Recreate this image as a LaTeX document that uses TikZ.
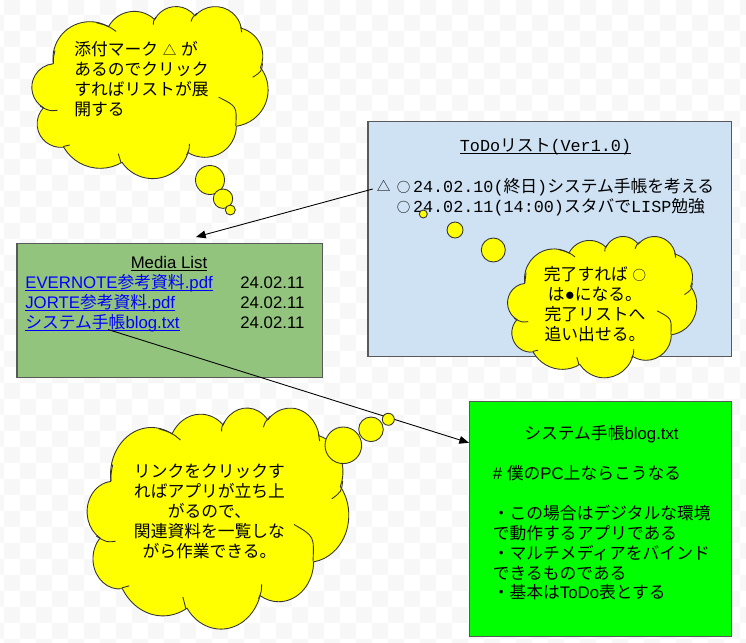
\documentclass[tikz,border=0pt]{standalone}
\usepackage{fontspec}
\setmainfont{Liberation Sans}
\setmonofont{Liberation Mono}
\newfontfamily\cjk{Noto Sans CJK JP}
\usetikzlibrary{arrows.meta, positioning}
\definecolor{tilegray}{HTML}{F7F7F7}
\definecolor{todoblue}{HTML}{CFE2F3}
\definecolor{listgreen}{HTML}{93C47D}
\definecolor{bloggreen}{HTML}{00FF00}
\definecolor{cloudyellow}{HTML}{FFFF00}
\definecolor{linkblue}{HTML}{0000FF}
\newcommand{\jp}[1]{{\cjk #1}}
\newcommand{\thinmark}[1]{{\cjk\fontsize{7.7}{11.34}\selectfont #1}}
\newcommand{\linkline}[1]{\setbox0\hbox{#1}\rlap{\rule[-1.5pt]{\wd0}{0.5pt}}\box0}
\newcommand{\lobe}[4]{arc[x radius=#1,y radius=#2,
  start angle={atan2(#1*sin(#3),#2*cos(#3))},
  delta angle={mod(atan2(#1*sin(#3+#4),#2*cos(#3+#4))-atan2(#1*sin(#3),#2*cos(#3))+720,360)}]}
\newcommand{\cloudnote}[4]{%
  \begin{scope}[shift={(#1,#2)},xscale=#3/432,yscale=#4/432]
    \filldraw[cloudline,fill=cloudyellow] (39,143.7)
      \lobe{67.53}{91.90}{-190.487}{123.781}
      \lobe{53.33}{72.67}{-144.102}{89.945}
      \lobe{43.65}{59.45}{-145.808}{99.723}
      \lobe{48.57}{65.95}{-130.986}{117.242}
      \lobe{53.33}{72.73}{-78.709}{109.027}
      \lobe{67.75}{92.20}{-46.267}{130.269}
      \lobe{57.85}{78.67}{0.625}{114.033}
      \lobe{67.52}{92.15}{22.452}{115.173}
      \lobe{77.20}{105.43}{66.243}{75.711}
      \lobe{43.60}{59.18}{-274.942}{146.736}
      \lobe{43.45}{59.45}{-246.829}{152.519} -- cycle;
    \draw[cloudline] (46.9,261.8) .. controls (32,264) .. (15,252);
    \draw[cloudline] (69.3,349) .. controls (63,352) .. (57,353);
    \draw[cloudline] (158,371) .. controls (159,382) .. (163,394);
    \draw[cloudline] (288,346) .. controls (288,360) .. (283,374);
    \draw[cloudline] (341.6,229) .. controls (375,252) .. (373,301);
    \draw[cloudline] (404,179) .. controls (420,165) .. (422,144);
    \draw[cloudline] (384,66) .. controls (384,60) .. (382,52);
    \draw[cloudline] (291,39) .. controls (294,28) .. (302,18);
    \draw[cloudline] (222,47) .. controls (222,38) .. (227,28);
    \draw[cloudline] (154,64) .. controls (140,50) .. (118,42);
    \draw[cloudline] (39,144) .. controls (39,130) .. (42,112);
  \end{scope}}
\tikzset{
  cloudline/.style={draw=black!80,line width=0.5pt},
  panel/.style={draw=black!65,line width=0.75pt,anchor=north west,inner sep=0pt},
  puff/.style={circle,draw=black!80,fill=cloudyellow,line width=0.5pt,inner sep=0pt},
  note/.style={font=\fontsize{9.55}{11.34}\selectfont,align=left,inner sep=0pt,anchor=north west},
  midnote/.style={note,align=center,anchor=north},
  flow/.style={draw=black,line width=0.5pt,-{Triangle[length=5.5pt,width=4.4pt]}},
}
\begin{document}
\begin{tikzpicture}[x=0.02cm,y=-0.02cm]
  \useasboundingbox (0,0) rectangle (746,642);
  % checker behind everything
  \foreach \tilex in {4,36,...,740}
    \foreach \tiley in {-1,31,...,639} {
      \fill[tilegray] (\tilex,\tiley) rectangle ++(16,16);
      \fill[tilegray] (\tilex+16,\tiley+16) rectangle ++(16,16);
      \fill[tilegray] (\tilex-32+16,\tiley+16) rectangle ++(16,16);
    }
  \fill[tilegray] (0,15) rectangle (4,31);

  % panels
  \node[panel,fill=todoblue,minimum width=363.5*0.02cm,minimum height=235*0.02cm] (todobox) at (367.3,120.7) {};
  \node[panel,fill=listgreen,minimum width=305.4*0.02cm,minimum height=134*0.02cm] (listbox) at (16.3,243) {};
  \node[panel,fill=bloggreen,minimum width=261.7*0.02cm,minimum height=234.7*0.02cm] (blogbox) at (469,401) {};

  % todo panel
  \node[midnote,font=\fontsize{9.55}{11.34}\selectfont\ttfamily] (todotitle) at (545.5,138) {\linkline{To\-Do\jp{リスト}(Ver1.0)}};
  \node[note] (taskmark) at (376.5,180) {\thinmark{△}};
  \node[note,font=\fontsize{9.55}{11.34}\selectfont\ttfamily] (tasklist) at (396.5,178) {%
    \thinmark{○}\kern1.5pt 24.02.10(\jp{終日})\jp{システム手帳を考える}\\
    \thinmark{○}\kern1.5pt 24.02.11(14:00)\jp{スタバで}LISP\jp{勉強}};

  % media list panel
  \node[midnote] (listtitle) at (169,256) {\linkline{Media List}};
  \node[note,text=linkblue] (link1) at (25,274) {\linkline{EVERNOTE\jp{参考資料}.pdf}};
  \node[note,text=linkblue] (link2) at (25,294) {\linkline{JORTE\jp{参考資料}.pdf}};
  \node[note,text=linkblue] (link3) at (25,314) {\linkline{\jp{システム手帳}blog.txt}};
  \node[note] (date1) at (240,276) {24.02.11};
  \node[note] (date2) at (240,296) {24.02.11};
  \node[note] (date3) at (240,316) {24.02.11};

  % blog panel
  \node[midnote] (blogtitle) at (601.5,425) {\jp{システム手帳}blog.txt};
  \node[note] (blogbody) at (492.5,465) {%
    \# \jp{僕の}PC\jp{上ならこうなる}\\[11.34pt]
    \jp{・この場合はデジタルな環境}\\
    \jp{で動作するアプリである}\\
    \jp{・マルチメディアをバインド}\\
    \jp{できるものである}\\
    \jp{・基本は}ToDo\jp{表とする}};

  % arrows
  \coordinate (taskfrom) at (372.7,189);
  \coordinate (listin) at (196,237);
  \coordinate (blogfrom) at (108,329.5);
  \coordinate (blogin) at (469,442.8);
  \draw[flow] (taskfrom) -- (listin);
  \draw[flow] (blogfrom) -- (blogin);

  % clouds
  \cloudnote{32}{6}{236}{172}
  \node[puff,minimum size=29*0.02cm] (puffa1) at (210,180) {};
  \node[puff,minimum size=19.4*0.02cm] (puffa2) at (223,198.7) {};
  \node[puff,minimum size=10*0.02cm] (puffa3) at (230.3,210) {};
  \node[note] (cloudatext) at (74,41) {%
    \jp{添付マーク} \thinmark{△} \jp{が}\\
    \jp{あるのでクリック}\\
    \jp{すればリストが展}\\
    \jp{開する}};

  \cloudnote{507.7}{236}{189}{141.3}
  \node[puff,minimum size=8*0.02cm] (puffb1) at (423.3,214) {};
  \node[puff,minimum size=16*0.02cm] (puffb2) at (455,230) {};
  \node[puff,minimum size=24*0.02cm] (puffb3) at (493.3,250) {};
  \node[midnote] (cloudbtext) at (595,266) {%
    \jp{完了すれば} \thinmark{○}\\
    \jp{は}●\jp{になる。}\\
    \jp{完了リストへ}\\
    \jp{追い出せる。}};

  \cloudnote{87.3}{407.3}{261.4}{221}
  \node[puff,minimum size=36.6*0.02cm] (puffc1) at (343.3,445.3) {};
  \node[puff,minimum size=24.6*0.02cm] (puffc2) at (371,429.3) {};
  \node[puff,minimum size=12*0.02cm] (puffc3) at (388.3,419.3) {};
  \node[midnote] (cloudctext) at (209.5,464) {%
    \jp{リンクをクリックす}\\
    \jp{ればアプリが立ち上}\\
    \jp{がるので、}\\
    \jp{関連資料を一覧しな}\\
    \jp{がら作業できる。}};
\end{tikzpicture}
\end{document}
